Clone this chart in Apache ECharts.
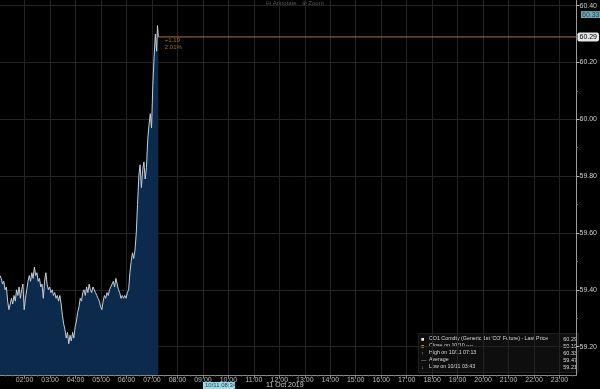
<!DOCTYPE html>
<html><head><meta charset="utf-8">
<script src="https://cdn.jsdelivr.net/npm/echarts@6/dist/echarts.min.js"></script>
<style>html,body{margin:0;padding:0;background:#000}#c{width:600px;height:389px}</style>
</head><body><div id="c"></div>
<script>
// minutes after midnight, 11 Oct 2019
const times = [62,65,68,71,74,77,80,83,86,89,92,95,98,101,104,107,110,113,116,119,122,125,128,131,134,137,140,143,146,149,152,155,158,161,164,167,170,173,176,179,182,185,188,191,194,197,200,203,206,209,212,215,218,221,224,227,230,233,236,239,242,245,248,251,254,257,260,263,266,269,272,275,278,281,284,287,290,293,296,299,302,305,308,311,314,317,320,323,326,329,332,335,338,341,344,347,350,353,356,359,362,365,368,371,374,377,380,383,386,389,392,395,398,401,404,407,410,413,416,419,422,425,428,431,433,435];
const prices = [59.45,59.44,59.42,59.43,59.40,59.41,59.36,59.33,59.35,59.37,59.35,59.38,59.36,59.40,59.38,59.41,59.37,59.40,59.42,59.33,59.37,59.40,59.43,59.45,59.43,59.46,59.44,59.48,59.45,59.46,59.43,59.44,59.41,59.42,59.37,59.43,59.46,59.42,59.40,59.41,59.39,59.40,59.38,59.39,59.37,59.38,59.36,59.38,59.35,59.31,59.28,59.26,59.23,59.25,59.21,59.24,59.22,59.25,59.23,59.27,59.29,59.32,59.34,59.37,59.36,59.39,59.40,59.38,59.41,59.39,59.42,59.40,59.39,59.41,59.40,59.39,59.38,59.37,59.36,59.34,59.33,59.36,59.38,59.37,59.39,59.38,59.40,59.41,59.42,59.43,59.41,59.44,59.42,59.40,59.39,59.37,59.38,59.37,59.38,59.37,59.39,59.40,59.46,59.50,59.53,59.51,59.54,59.60,59.70,59.80,59.84,59.76,59.82,59.85,59.79,59.83,59.93,59.98,60.02,59.97,60.12,60.22,60.30,60.24,60.33,60.29];
const xHourTicks = [120,180,240,300,360,420,480,540,600,660,720,780,840,900,960,1020,1080,1140,1200,1260,1320,1380];
const xMinorTicks = [75,90,105,135,150,165,195,210,225,255,270,285,315,330,345,375,390,405,435,450,465,495,510,525,555,570,585,615,630,645,675,690,705,735,750,765,795,810,825,855,870,885,915,930,945,975,990,1005,1035,1050,1065,1095,1110,1125,1155,1170,1185,1215,1230,1245,1275,1290,1305,1335,1350,1365,1395,1410];
const yTickValues = [59.2,59.4,59.6,59.8,60.0,60.2,60.4];
const yMinorTicks = [59.3,59.5,59.7,59.9,60.1,60.3];
const lastPrice = 60.29;
const highPrice = 60.33;
const changeText = ['+1.19','2.01%'];
const legendLabels = ["CO1 Comdty (Generic 1st 'CO' Future) - Last Price","Close on 10/10 ----","High on 10/11 07:13","Average","Low on 10/11 03:43"];
const legendValues = ['60.29','59.10','60.33','59.47','59.21'];
const legendIcons = ['■','■','↑','—','↓'];
const legendIconColors = ['#f0f0f0','#d08a2a','#aaa','#aaa','#aaa'];
const dateLabel = '11 Oct 2019';
const cursorLabel = '10/11 08:34';
const xMin = 62, xMax = 1420, yMin = 59.10, yMax = 60.42;

const FONT = 'Liberation Sans';
const chart = echarts.init(document.getElementById('c'), null, {renderer:'canvas'});
const pad = n => (n<10?'0':'')+n;
const lastTime = times[times.length-1];

const legendGraphics = [];
legendGraphics.push({type:'rect', left:418, top:333, shape:{width:160, height:39}, style:{fill:'#0e0e0e', stroke:'#1e1e1e'}});
legendLabels.forEach((t,i)=>{
  const y = 336 + i*7.1;
  legendGraphics.push({type:'text', left:421, top:y, style:{text:legendIcons[i], fill:legendIconColors[i], font:'5.5px '+FONT}});
  legendGraphics.push({type:'text', left:429, top:y, style:{text:t, fill:'#d8d8d8', font:'5.3px '+FONT}});
  legendGraphics.push({type:'text', right:23, top:y, style:{text:legendValues[i], fill:'#d8d8d8', font:'5.5px '+FONT, align:'right'}});
});

chart.setOption({
  backgroundColor:'#000',
  animation:false,
  grid:{left:0, right:21, top:0, bottom:14, containLabel:false},
  xAxis:[{
    type:'value', min:xMin, max:xMax, position:'bottom',
    axisLine:{show:true, lineStyle:{color:'#8a8a8a', width:1}},
    axisTick:{show:true, customValues:xHourTicks, length:3, lineStyle:{color:'#8a8a8a'}},
    axisLabel:{customValues:xHourTicks, color:'#bdbdbd', fontSize:7, fontFamily:FONT, margin:2,
      formatter:v=>pad(Math.floor(v/60))+':'+pad(v%60)},
    splitLine:{show:true, lineStyle:{color:'#232323', width:1}}
  },{
    type:'value', min:xMin, max:xMax, position:'bottom',
    axisLine:{show:false}, axisLabel:{show:false}, splitLine:{show:false},
    axisTick:{show:true, customValues:xMinorTicks, length:1.5, lineStyle:{color:'#6a6a6a'}}
  }],
  yAxis:[{
    type:'value', min:yMin, max:yMax, position:'right',
    axisLine:{show:true, lineStyle:{color:'#9a9a9a', width:1}},
    axisTick:{show:true, customValues:yTickValues, length:3, inside:false, lineStyle:{color:'#bbb'}},
    axisLabel:{customValues:yTickValues, color:'#d0d0d0', fontSize:7, fontFamily:FONT, margin:3,
      formatter:v=>v.toFixed(2)},
    splitLine:{show:true, lineStyle:{color:'#232323', width:1}}
  },{
    type:'value', min:yMin, max:yMax, position:'right',
    axisLine:{show:false}, axisLabel:{show:false}, splitLine:{show:false},
    axisTick:{show:true, customValues:yMinorTicks, length:1.5, lineStyle:{color:'#777'}}
  }],
  series:[{
    type:'line', xAxisIndex:0, yAxisIndex:0,
    data:times.map((t,i)=>[t,prices[i]]),
    showSymbol:false, symbol:'none',
    lineStyle:{color:'#c9ced6', width:1},
    areaStyle:{color:'#0b2a4c', opacity:1, origin:'start'}
  },{
    type:'line', xAxisIndex:0, yAxisIndex:0,
    data:[[lastTime,lastPrice],[xMax,lastPrice]],
    showSymbol:false, symbol:'none', clip:false,
    itemStyle:{color:'#a8743c'},
    lineStyle:{color:'#a8743c', width:1},
    endLabel:{show:true, formatter:lastPrice.toFixed(2), color:'#000', backgroundColor:'#e6e6e6',
      borderRadius:2, padding:[1,2], fontSize:7, fontFamily:FONT, distance:1}
  },{
    type:'scatter', xAxisIndex:0, yAxisIndex:0, clip:false, silent:true,
    data:[[lastTime,lastPrice]], symbolSize:1, itemStyle:{color:'rgba(0,0,0,0)'},
    label:{show:true, position:'right', offset:[1,7], formatter:changeText.join('\n'),
      color:'#c8843c', fontSize:6, lineHeight:7, fontFamily:FONT}
  },{
    type:'scatter', xAxisIndex:0, yAxisIndex:0, clip:false, silent:true,
    data:[[xMax,highPrice]], symbolSize:1, itemStyle:{color:'rgba(0,0,0,0)'},
    label:{show:true, position:'right', offset:[-1,-11], formatter:highPrice.toFixed(2),
      color:'#0a2a3a', backgroundColor:'#8fd0dc', padding:[0,1], fontSize:7, fontFamily:FONT}
  }],
  graphic:[
    {type:'text', left:266, top:0, style:{text:'⊟ Annotate   ⊕ Zoom', fill:'#5a5a5a', font:'6px '+FONT}},
    {type:'text', left:266, top:382, style:{text:dateLabel, fill:'#c8c8c8', font:'7px '+FONT}},
    {type:'rect', left:203, top:382, shape:{width:32, height:7}, style:{fill:'#9fd8e2'}},
    {type:'text', left:205, top:382.5, style:{text:cursorLabel, fill:'#1a3a4a', font:'6px '+FONT}}
  ].concat(legendGraphics)
});
</script></body></html>
